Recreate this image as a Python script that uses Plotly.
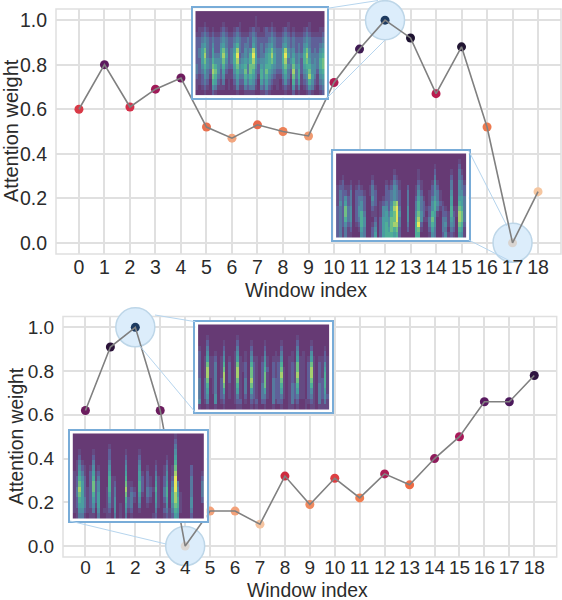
import plotly.graph_objects as go

W, H = 562, 600

window_index = list(range(19))
top_weights = [0.60, 0.80, 0.61, 0.69, 0.74, 0.52, 0.47, 0.53, 0.50, 0.48, 0.72, 0.87, 1.00, 0.92, 0.67, 0.88, 0.52, 0.00, 0.23]
bottom_weights = [0.62, 0.91, 1.00, 0.62, 0.00, 0.16, 0.16, 0.10, 0.32, 0.19, 0.31, 0.22, 0.33, 0.28, 0.40, 0.50, 0.66, 0.66, 0.78]
top_colors = ["#d93a47", "#5c1a5e", "#d5304a", "#a01a58", "#6f1c5e", "#e8714f", "#f2a67f", "#e86a4c", "#ec8158", "#f09a70",
              "#b01c53", "#3f1b52", "#1d3a60", "#1d1230", "#b91c4f", "#221633", "#ed7a4f", "#d9d4d0", "#f5c6a0"]
bottom_colors = ["#6b1c5e", "#2b1338", "#1d3a60", "#6b1c5e", "#dcd8d4", "#f3a27a", "#f3a27a", "#f6c4a0", "#cf2b3f", "#f08a5f",
                 "#dd3f42", "#f17c4f", "#ab1f55", "#f06b43", "#8f1c5c", "#a81a5a", "#5a1a60", "#4c1a5c", "#2e1440"]
y_ticks = [0.0, 0.2, 0.4, 0.6, 0.8, 1.0]

spec_top_high = [
"000000000000000000000000000000000000000000000000",
"000000000000000000000010000000000000000000000000",
"000100000010000010000010000010000010000000100000",
"011210100121001210001211012121001210100012100011",
"112321211232112321112321112232112321211123211112",
"223432322343223432232432222343223432322234322223",
"224532422453224632332532323453224532323245322234",
"235732522574235832434842324574335843423257423245",
"235832533585236923436952335685336953534368433356",
"225743644474236834546853445675336834634267534367",
"324643764363225745637742546654335743745256644367",
"323532874252114644737632647543224632836245744256",
"212431763241113533646531646432113531736134853145",
"112320652130102422535420535321102420625123642134",
"101210431110101311323310324210101210413012431023",
"000100210000000100111100112100000100201001210012",
]
spec_top_low = [
"000000000000000000000000000000000000000000000000",
"000000000000000000000000000000000000000000000100",
"000000000000000000000000000000000000100000000200",
"000000000000000000000100000000100000200000100310",
"001000000000010000000210000000100000300000200320",
"012001001000020000101321000000210001410000300431",
"122112012100131000212431002001310002420000300432",
"132213022210132000223432003001420012431000400442",
"132423023320042001223432003002531013531000500553",
"142523023420032012324782003003632014642100500653",
"232734024420021014425893004003632124631210611763",
"232734024630011014536794004004742026510221621873",
"232634023640002025547793004005841137400331530873",
"232423012640013025647883003006920036400341430762",
"231312001530024025657672002006710025300330320651",
"231311000430025025666562000006600014300241210541",
]
spec_bottom_high = [
"000000000000000000000000000000000000000000000000",
"000000000000000000000000000000000000000000000000",
"000100000000001000000000000000000000100000000000",
"000200000100002000010000100000100000200001000000",
"100300000200003000020000200000200000300002000010",
"200400100300014001030000300010300010401004000020",
"201511201401015101041101410111400110511015101121",
"201711301602017112062102510212600121711027102141",
"201811301702018112072102620212710121711028102151",
"201811301802018102072102710212810121811028102161",
"302701302802017103082102710322710121711027102261",
"302601302701016103072103710322610132611026103261",
"302501302501015103052103510322510132511024103251",
"302400402301013102032103310322310132311023103242",
"401300401200012201021202200312200131200112103131",
"100100100100001100010100100100100110100101101111",
]
spec_bottom_low = [
"000000000000000000000000000000000000010000000000",
"000000000000000000000000000000000000020000000000",
"000000000000010000000000000000000000030000000000",
"001000010000020000010000100000000000040000000000",
"002000020000020000020000200000000010050000000000",
"013100030000030000030000300000100020060000000000",
"014210140100040000040000400100200130170000020000",
"115310251200050000050000510200300140180000020001",
"126420261300061100060000520210410240290000030002",
"127520272400061200071100620210510250393000030003",
"138521272400161300081210620321610360494000030003",
"137521262500151300071320510320510360585100030003",
"126531252500141400062310400210510250586100040002",
"125531241500131401052300300100410140476100040000",
"114421130401120401041200100000300231365100030000",
"013310110300110301030100000001200121254000020000",
]

GRID = "#e0e0e0"
INK = "#2b2b2b"
FONT = "Liberation Sans"
SPEC_HUES = ["#663a74", "#654a82", "#5f6098", "#567a9f", "#4f8ea2", "#4a9ea0", "#4fae98", "#6fbf85", "#a5d06e", "#e6e65a"]
SPEC_SCALE = [[i / 9, c] for i, c in enumerate(SPEC_HUES)]


def fx(px):
    return px / W


def fy(py):
    return 1 - py / H


def matrix(rows):
    return [[int(c) for c in r.ljust(48, "0")[:48]] for r in rows]


fig = go.Figure()

panels = [
    dict(ax="", vals=top_weights, cols=top_colors, box=(56, 9, 561, 254), peaks=[12, 17], fs=19.5, label_y=253),
    dict(ax="2", vals=bottom_weights, cols=bottom_colors, box=(63, 316.4, 556.7, 557), peaks=[2, 4], fs=19, label_y=554),
]
layout = {}
shapes = []
for p in panels:
    l, t, r, b = p["box"]
    xa = "x" + p["ax"]
    ya = "y" + p["ax"]
    layout["xaxis" + p["ax"]] = dict(
        domain=[fx(l), fx(r)], range=[-0.9, 18.9], anchor="free", position=fy(p["label_y"]), tickvals=window_index,
        showgrid=True, gridcolor=GRID, gridwidth=1.5, zeroline=False, showline=False, ticks="",
        tickfont=dict(family=FONT, size=p["fs"], color=INK),
    )
    layout["yaxis" + p["ax"]] = dict(
        domain=[fy(b), fy(t)], range=[-0.05, 1.05], anchor=xa, tickvals=y_ticks, tickformat=".1f",
        showgrid=True, gridcolor=GRID, gridwidth=1.5, zeroline=False, showline=False,
        ticks="outside", ticklen=4, tickcolor="rgba(0,0,0,0)",
        tickfont=dict(family=FONT, size=p["fs"], color=INK),
    )
    shapes.append(dict(type="rect", xref="paper", yref="paper", x0=fx(l), x1=fx(r), y0=fy(b), y1=fy(t),
                       line=dict(color=GRID, width=1.5), layer="below"))
    fig.add_trace(go.Scatter(
        x=p["peaks"], y=[p["vals"][i] for i in p["peaks"]], xaxis=xa, yaxis=ya, mode="markers",
        marker=dict(size=39, color="#dcedfb", line=dict(color="#bdd6e8", width=1.5)),
        hoverinfo="skip", showlegend=False, cliponaxis=False,
    ))
    fig.add_trace(go.Scatter(
        x=window_index, y=p["vals"], xaxis=xa, yaxis=ya, mode="markers",
        marker=dict(size=9, color=p["cols"]), showlegend=False, cliponaxis=False,
    ))
    fig.add_trace(go.Scatter(
        x=window_index, y=p["vals"], xaxis=xa, yaxis=ya, mode="lines",
        line=dict(color="#808080", width=1.6), showlegend=False, hoverinfo="skip",
    ))

insets = [
    (spec_top_high, (192.7, 8.3, 327.3, 97.7)),
    (spec_top_low, (333.3, 150.7, 468.7, 240)),
    (spec_bottom_high, (195.3, 321.7, 332.3, 412.3)),
    (spec_bottom_low, (70, 430.7, 206.7, 521)),
]
for k, (rows, (l, t, r, b)) in enumerate(insets):
    n = str(k + 3)
    xa, ya = "x" + n, "y" + n
    pad_x = 2.8 / ((r - l - 5.6) / 48)
    pad_y = 2.8 / ((b - t - 5.6) / 16)
    layout["xaxis" + n] = dict(domain=[fx(l), fx(r)], range=[-0.5 - pad_x, 47.5 + pad_x], anchor=ya, visible=True,
                               showgrid=False, zeroline=False, showticklabels=False, ticks="",
                               showline=True, mirror=True, linecolor="#78acd8", linewidth=1.5)
    layout["yaxis" + n] = dict(domain=[fy(b), fy(t)], range=[15.5 + pad_y, -0.5 - pad_y], anchor=xa, visible=True,
                               showgrid=False, zeroline=False, showticklabels=False, ticks="",
                               showline=True, mirror=True, linecolor="#78acd8", linewidth=1.5)
    fig.add_trace(go.Heatmap(z=matrix(rows), xaxis=xa, yaxis=ya, zmin=0, zmax=9, colorscale=SPEC_SCALE,
                             showscale=False, zsmooth=False, hoverinfo="skip"))

connectors = [
    (327.3, 8.3, 378, 0.5), (327.3, 97.7, 385, 40),
    (468.7, 150.7, 507, 226), (468.7, 240, 512, 262),
    (195.3, 321.7, 155, 315), (195.3, 412.3, 139, 345),
    (70, 521, 166, 544),
]
shapes += [dict(type="line", xref="paper", yref="paper", x0=fx(a), y0=fy(b), x1=fx(c), y1=fy(d),
                line=dict(color="#b6d5ee", width=1), layer="above") for a, b, c, d in connectors]


def title(text, px, py, size, angle=0):
    return dict(text=text, xref="paper", yref="paper", x=fx(px), y=fy(py), xanchor="center", yanchor="middle",
                showarrow=False, textangle=angle, borderpad=0, font=dict(family=FONT, size=size, color=INK))


annotations = [
    title("Window index", 306, 290, 19.6),
    title("Attention weight", 11, 131, 20, -90),
    title("Window index", 307, 590, 19.4),
    title("Attention weight", 16, 436, 19.3, -90),
]

fig.update_layout(
    width=W, height=H, margin=dict(l=0, r=0, t=0, b=0), paper_bgcolor="white", plot_bgcolor="white",
    showlegend=False, shapes=shapes, annotations=annotations, **layout,
)
fig.write_html("out.html", config=dict(displayModeBar=False), post_script="document.body.style.margin='0';")
